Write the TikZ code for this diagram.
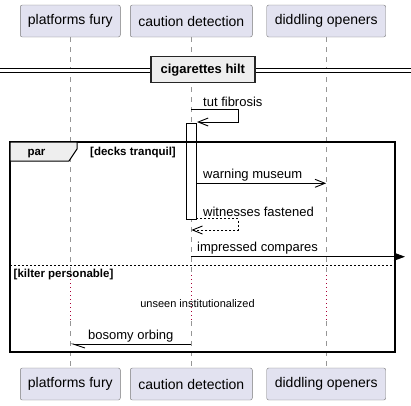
\documentclass[tikz,border=0pt]{standalone}
\usepackage{fontspec}
\setmainfont{Liberation Sans}
\usetikzlibrary{arrows.meta}
\definecolor{partfill}{RGB}{226,226,240}
\definecolor{partdraw}{RGB}{120,120,120}
\definecolor{lifegray}{RGB}{150,150,150}
\definecolor{delayred}{RGB}{168,0,54}
\definecolor{tabfill}{RGB}{238,238,238}

\begin{document}
\begin{tikzpicture}[x=1pt,y=-1pt,
        partbox/.style={fill=partfill,draw=partdraw,rounded corners=2pt,minimum height=32pt,inner sep=0pt,font=\fontsize{14}{16}\selectfont},
        lifeline/.style={draw=lifegray,line width=0.8pt,dash pattern=on 5pt off 5pt},
        delayline/.style={draw=delayred,line width=0.9pt,dash pattern=on 1pt off 3pt},
        msgline/.style={draw=black,line width=0.9pt},
        msgtext/.style={inner sep=0pt,anchor=west,font=\fontsize{13}{15}\selectfont},
        boldtext/.style={inner sep=0pt,font=\fontsize{11.5}{13}\selectfont\bfseries},
        openhead/.style={-{Straight Barb[length=10pt,width=8pt]}}
      ]
      \useasboundingbox (0,0) rectangle (411,405);

      % participants
      \node[partbox,minimum width=100pt] (pftop) at (70.3,21) {platforms fury};
      \node[partbox,minimum width=122pt] (cdtop) at (191.3,21) {caution detection};
      \node[partbox,minimum width=119pt] (dotop) at (326.2,21) {diddling openers};
      \node[partbox,minimum width=100pt] (pfbot) at (70.3,384) {platforms fury};
      \node[partbox,minimum width=122pt] (cdbot) at (191.3,384) {caution detection};
      \node[partbox,minimum width=119pt] (dobot) at (326.2,384) {diddling openers};

      % lifelines
      \coordinate (pfa) at (70.3,275);
      \coordinate (pfb) at (70.3,321);
      \coordinate (cda) at (191.3,275);
      \coordinate (cdb) at (191.3,321);
      \coordinate (doa) at (326.2,275);
      \coordinate (dob) at (326.2,321);
      \draw[lifeline] (pftop) -- (pfa);
      \draw[delayline] (pfa) -- (pfb);
      \draw[lifeline] (pfb) -- (pfbot);
      \draw[lifeline] (cdtop) -- (cda);
      \draw[delayline] (cda) -- (cdb);
      \draw[lifeline] (cdb) -- (cdbot);
      \draw[lifeline] (dotop) -- (doa);
      \draw[delayline] (doa) -- (dob);
      \draw[lifeline] (dob) -- (dobot);

      % divider
      \draw[double=white,double distance=2.5pt,line width=1pt] (0,70.25) -- (411,70.25);
      \node[fill=tabfill,draw=black!85,line width=1.5pt,minimum width=104pt,minimum height=25.6pt,inner sep=0pt,text depth=1pt,font=\fontsize{13}{15}\selectfont\bfseries] (hilt) at (202.8,69.5) {cigarettes hilt};

      % self message
      \coordinate (tut1) at (191.3,109);
      \coordinate (tut2) at (238,109);
      \coordinate (tut3) at (197,122);
      \draw[msgline,openhead] (tut1) -- (tut2) |- (tut3);
      \node[msgtext] (tutlbl) at (203,102) {tut fibrosis};

      % activation
      \node[fill=white,draw=black,line width=0.9pt,minimum width=9.3pt,minimum height=96pt,inner sep=0pt] (act) at (191.35,171) {};

      % par group
      \draw[line width=1.5pt] (10,142) rectangle (395,352);
      \draw[fill=tabfill,draw=black,line width=1pt] (10,142) -- (77,142) -- (77,149) -- (69,161) -- (10,161) -- cycle;
      \node[boldtext] (partag) at (36.5,154) {par};
      \node[boldtext,anchor=west] (decks) at (90,153) {[decks tranquil]};

      % messages
      \coordinate (wm1) at (196,183.3);
      \coordinate (wm2) at (326.2,183.3);
      \draw[msgline,openhead] (wm1) -- (wm2);
      \node[msgtext] (wmlbl) at (203,175.5) {warning museum};

      \coordinate (wf1) at (196,218.7);
      \coordinate (wf2) at (238,218.7);
      \coordinate (wf3) at (191.3,230);
      \draw[msgline,dash pattern=on 2pt off 2pt,openhead] (wf1) -- (wf2) |- (wf3);
      \node[msgtext] (wflbl) at (203,211.5) {witnesses fastened};

      \coordinate (ic1) at (191.3,256.7);
      \coordinate (ic2) at (405,256.7);
      \draw[msgline,-{Stealth[length=11pt,width=8pt,inset=2pt]}] (ic1) -- (ic2);
      \node[msgtext] (iclbl) at (197,248.5) {impressed compares};

      % else
      \draw[line width=0.9pt,dash pattern=on 2pt off 2pt] (10,265) -- (395,265);
      \node[boldtext,anchor=west] (kilter) at (13.5,275) {[kilter personable]};

      \node[inner sep=0pt,font=\fontsize{11}{13}\selectfont] (unseen) at (197.5,303.5) {unseen institutionalized};

      \coordinate (bo1) at (191.3,344);
      \coordinate (bo2) at (70.3,344);
      \draw[msgline,-{Straight Barb[left,length=12pt,width=8pt]}] (bo1) -- (bo2);
      \node[msgtext] (bolbl) at (88,336.5) {bosomy orbing};

    \end{tikzpicture}
\end{document}
